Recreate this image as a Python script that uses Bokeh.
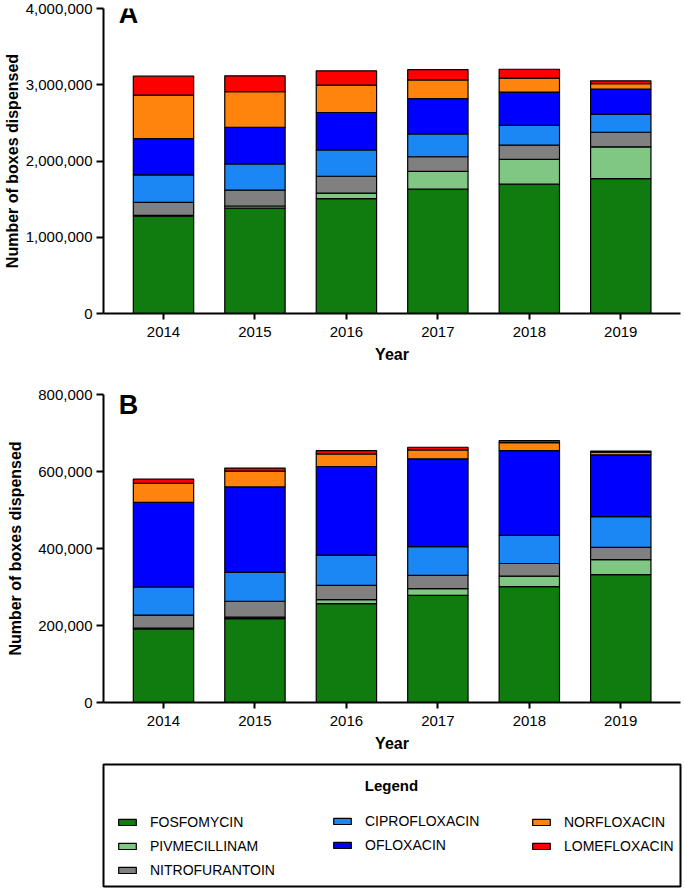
from bokeh.plotting import figure
from bokeh.models import (ColumnDataSource, Range1d, FixedTicker, NumeralTickFormatter,
                          Label, Legend, LegendItem)
from bokeh.layouts import column
from bokeh.embed import file_html
from bokeh.resources import INLINE

# ---------------- data ----------------
years = [2014, 2015, 2016, 2017, 2018, 2019]
drugs = ["FOSFOMYCIN", "PIVMECILLINAM", "NITROFURANTOIN", "CIPROFLOXACIN",
         "OFLOXACIN", "NORFLOXACIN", "LOMEFLOXACIN"]
colors = ["#107c10", "#80c783", "#808080", "#1b87f5", "#0000ff", "#ff840d", "#ff0000"]

# Panel A
fosfomycin_A     = [1277000, 1381000, 1506000, 1631000, 1696000, 1770000]
pivmecillinam_A  = [10000, 29000, 73000, 234000, 325000, 416000]
nitrofurantoin_A = [171000, 208000, 221000, 191000, 187000, 191000]
ciprofloxacin_A  = [360000, 343000, 347000, 299000, 260000, 237000]
ofloxacin_A      = [476000, 481000, 489000, 463000, 436000, 329000]
norfloxacin_A    = [571000, 467000, 359000, 247000, 182000, 70000]
lomefloxacin_A   = [247000, 208000, 187000, 134000, 117000, 39000]

# Panel B
fosfomycin_B     = [191000, 218000, 257000, 278000, 301000, 332000]
pivmecillinam_B  = [2000, 4000, 10000, 18000, 27000, 39000]
nitrofurantoin_B = [34000, 41000, 37000, 34000, 33000, 32000]
ciprofloxacin_B  = [73000, 75000, 79000, 75000, 73000, 80000]
ofloxacin_B      = [220000, 222000, 230000, 228000, 220000, 160000]
norfloxacin_B    = [49000, 41000, 33000, 23000, 21000, 7000]
lomefloxacin_B   = [11000, 8000, 8000, 7000, 5000, 3000]

yticks_A = [0, 1000000, 2000000, 3000000, 4000000]
yticks_B = [0, 200000, 400000, 600000, 800000]

values_A = [fosfomycin_A, pivmecillinam_A, nitrofurantoin_A, ciprofloxacin_A,
            ofloxacin_A, norfloxacin_A, lomefloxacin_A]
values_B = [fosfomycin_B, pivmecillinam_B, nitrofurantoin_B, ciprofloxacin_B,
            ofloxacin_B, norfloxacin_B, lomefloxacin_B]

FONT = "Liberation Sans"
W = 684
LEFT = 103
BAR_W = 0.66
XR = (2013.344, 2019.653)


def make_panel(values, yticks, letter, height, top, bottom, letter_dy, ytitle_standoff):
    src = ColumnDataSource(dict(year=years, **{d: v for d, v in zip(drugs, values)}))
    p = figure(width=W, height=height, output_backend="svg", toolbar_location=None,
               x_range=Range1d(*XR), y_range=Range1d(yticks[0], yticks[-1]),
               min_border_left=LEFT, min_border_right=4,
               min_border_top=top, min_border_bottom=bottom)
    p.vbar_stack(drugs, x="year", width=BAR_W, source=src, fill_color=colors,
                 line_color="black", line_width=1.2)
    p.xaxis.ticker = FixedTicker(ticks=years)
    p.yaxis.ticker = FixedTicker(ticks=yticks)
    p.yaxis.formatter = NumeralTickFormatter(format="0,0")
    for ax in p.axis:
        ax.axis_line_width = 2
        ax.axis_line_color = "black"
        ax.major_tick_line_width = 2
        ax.major_tick_line_color = "black"
        ax.major_tick_in = 0
        ax.minor_tick_line_color = None
        ax.major_label_text_font = FONT
        ax.major_label_text_font_size = "15px"
        ax.major_label_text_color = "black"
        ax.axis_label_text_font = FONT
        ax.axis_label_text_font_style = "bold"
        ax.axis_label_text_font_size = "16px"
        ax.axis_label_text_color = "black"
    p.xaxis.major_tick_out = 6
    p.yaxis.major_tick_out = 7
    p.xaxis.major_label_standoff = 7
    p.yaxis.major_label_standoff = 4
    p.xaxis.axis_label = "Year"
    p.yaxis.axis_label = "Number of boxes dispensed"
    p.xaxis.axis_label_standoff = 6
    p.yaxis.axis_label_standoff = ytitle_standoff
    p.grid.visible = False
    p.outline_line_color = None
    frame_h = height - top - bottom
    p.add_layout(Label(x=25, y=frame_h - letter_dy, x_units="screen", y_units="screen",
                       text=letter, text_font=FONT, text_font_style="bold",
                       text_font_size="27px", text_align="center",
                       text_baseline="middle", text_color="black"))
    return p, src


pA, srcA = make_panel(values_A, yticks_A, "A", 367, 8, 54, 5.5, 2)
pB, srcB = make_panel(values_B, yticks_B, "B", 389, 27, 54, 10, 11)

# ---------------- legend panel ----------------
LH = 132
pL = figure(width=W, height=LH, output_backend="svg", toolbar_location=None,
            x_range=Range1d(*XR), y_range=Range1d(0, 1),
            min_border_left=103, min_border_right=1, min_border_top=8, min_border_bottom=2,
            x_axis_location=None, y_axis_location=None)
pL.grid.visible = False
pL.outline_line_color = "black"
pL.outline_line_width = 2
rs = pL.vbar_stack(drugs, x="year", width=BAR_W, source=srcB, fill_color=colors,
                   line_color="black", line_width=1.2)
for r in rs:
    r.visible = False

groups = [(0, 3, 13, 6), (3, 5, 228, 31), (5, 7, 427, 30)]
for a, b, lx, ly in groups:
    leg = Legend(items=[LegendItem(label=drugs[i], renderers=[rs[i]]) for i in range(a, b)],
                 location=(lx, ly), orientation="vertical",
                 border_line_color=None, background_fill_alpha=0,
                 padding=0, margin=0, spacing=3, label_height=21,
                 glyph_width=22, glyph_height=8, label_standoff=12,
                 label_text_font=FONT, label_text_font_size="14px",
                 label_text_color="black")
    pL.add_layout(leg)

pL.add_layout(Label(x=288, y=101.5, x_units="screen", y_units="screen", text="Legend",
                    text_font=FONT, text_font_style="bold", text_font_size="15px",
                    text_align="center", text_baseline="middle", text_color="black"))

layout = column(pA, pB, pL)
open("out.html", "w").write(file_html(layout, INLINE))
